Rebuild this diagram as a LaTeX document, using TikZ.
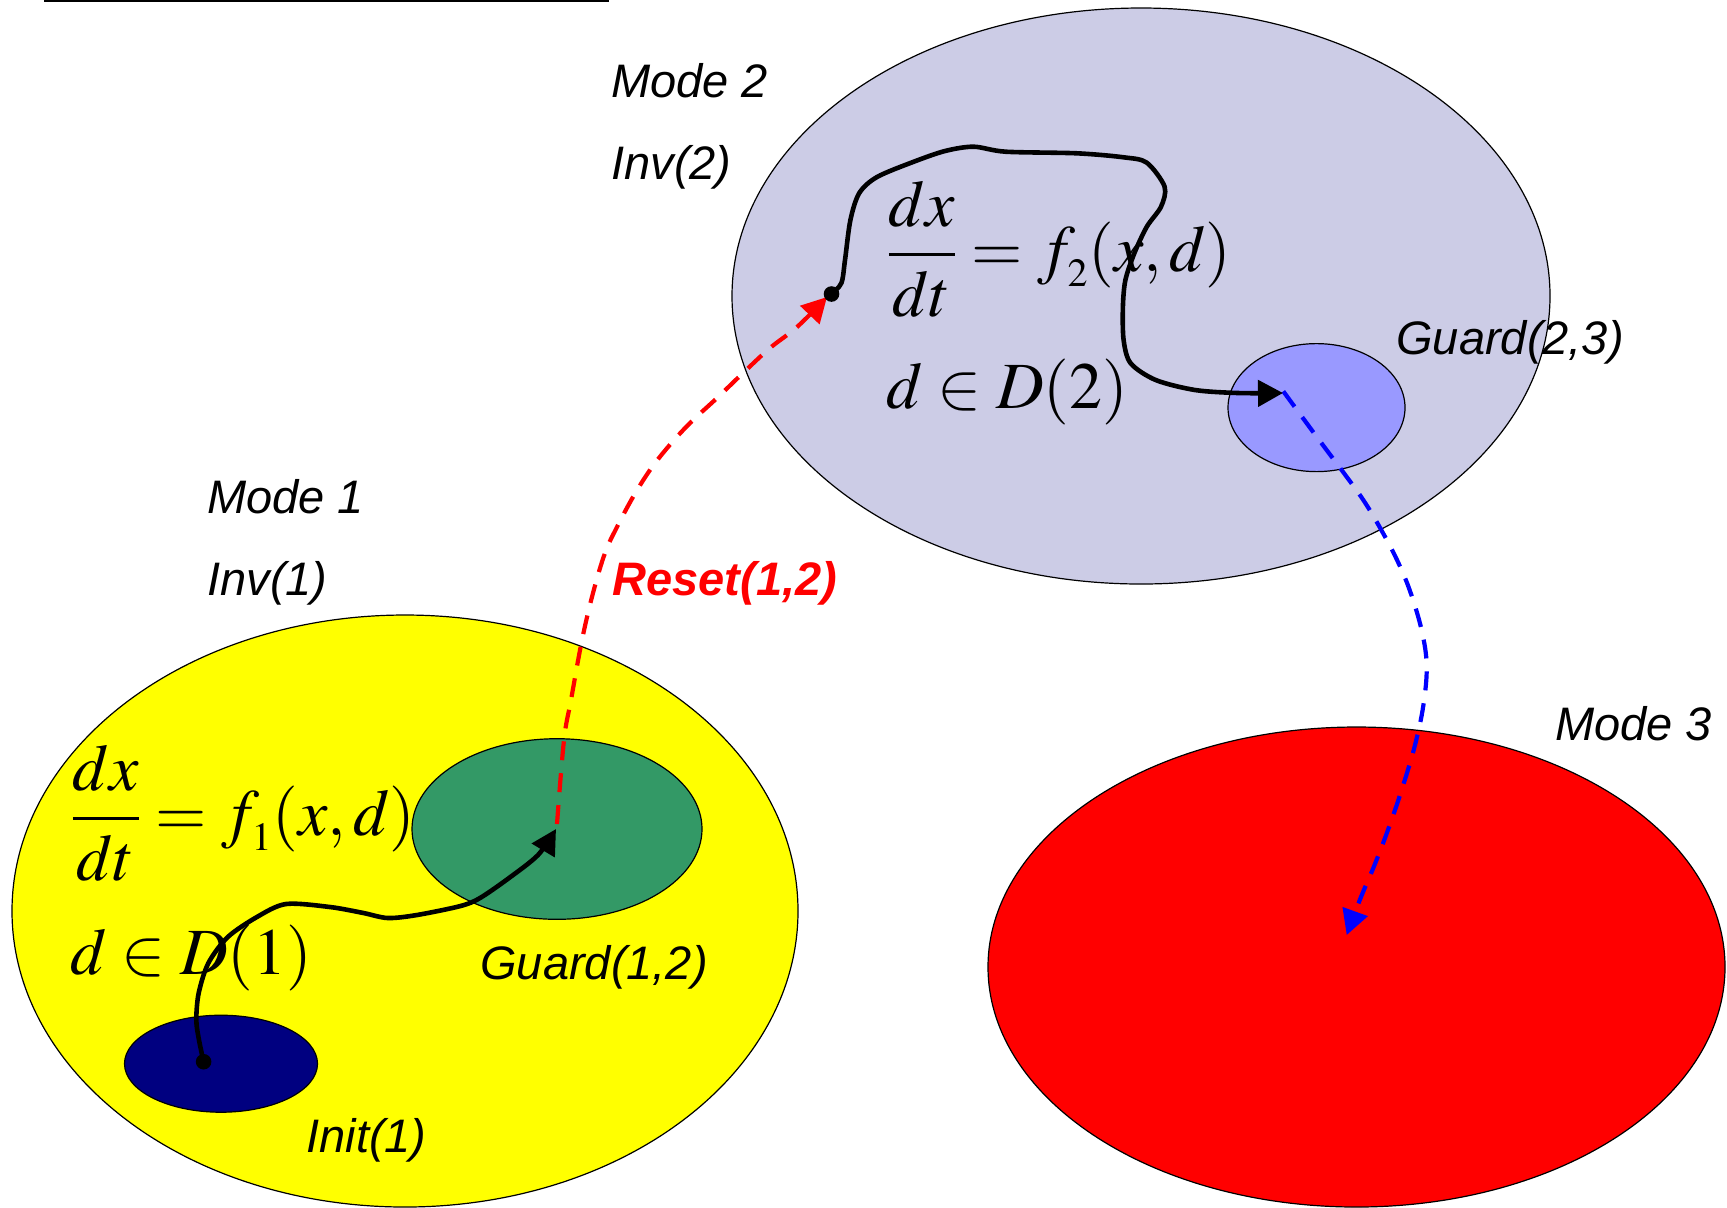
\documentclass[tikz,border=0pt]{standalone}
\usepackage{mathptmx}
\usepackage[no-math]{fontspec}
\newfontfamily\arialf{Liberation Sans}
\usetikzlibrary{shapes.geometric,arrows.meta}
\definecolor{lav}{RGB}{204,204,230}
\definecolor{guardblue}{RGB}{153,153,255}
\definecolor{guardgreen}{RGB}{51,153,102}
\definecolor{initblue}{RGB}{0,0,128}
\definecolor{modeyellow}{RGB}{255,255,0}
\definecolor{modered}{RGB}{255,0,0}
\newcommand{\smallsub}[1]{\raisebox{-3pt}{\fontsize{20}{20}\selectfont$#1$}}
\tikzset{
  region/.style={ellipse, draw=black, line width=0.6pt, inner sep=0pt},
  lab/.style={font=\arialf\itshape\fontsize{23.5}{28}\selectfont, inner sep=0pt, anchor=base west},
  mathlab/.style={font=\fontsize{33}{40}\selectfont, inner sep=0pt, anchor=base west},
  traj/.style={line width=2.3pt, line join=round, -{Triangle[length=12.5pt,width=13pt]}},
  jump/.style={line width=2.1pt, dash pattern=on 9.5pt off 6.5pt, -{Triangle[length=12.5pt,width=13pt]}},
  dotmark/.style={circle, fill=black, inner sep=0pt, minimum size=7.8pt}
}
\begin{document}
\begin{tikzpicture}[x=0.5pt,y=-0.5pt]
\useasboundingbox (0,0) rectangle (1727,1207);
% top rule
\coordinate (tl1) at (44,1);
\coordinate (tl2) at (609,1);
\draw[line width=1pt] (tl1) -- (tl2);
% regions
\node[region, fill=lav, minimum width=409pt, minimum height=288pt] (mode2) at (1141,296) {};
\node[region, fill=modeyellow, minimum width=393pt, minimum height=296pt] (mode1) at (405,911) {};
\node[region, fill=modered, minimum width=368.5pt, minimum height=240pt] (mode3) at (1356.5,967) {};
\node[region, fill=guardgreen, minimum width=145pt, minimum height=90.3pt] (guard12) at (557,829) {};
\node[region, fill=initblue, minimum width=96.5pt, minimum height=48.5pt] (init1) at (221,1063.7) {};
\node[region, fill=guardblue, minimum width=88.5pt, minimum height=64pt] (guard23) at (1316.5,407.6) {};
% labels
\node[lab] (lm2) at (611,97) {Mode 2};
\node[lab] (linv2) at (611,179.5) {Inv(2)};
\node[lab] (lm1) at (207,513) {Mode 1};
\node[lab] (linv1) at (207,595) {Inv(1)};
\node[lab] (lm3) at (1555,740) {Mode 3};
\node[lab] (lg23) at (1396,354.5) {Guard(2,3)};
\node[lab] (lg12) at (480,979) {Guard(1,2)};
\node[lab] (linit) at (306,1152) {Init(1)};
\node[lab, text=red, font=\arialf\bfseries\itshape\fontsize{23.5}{28}\selectfont] (lreset) at (612,595) {Reset(1,2)};
% equations
\node[mathlab] (eq2) at (886,271) {$\displaystyle\frac{dx}{dt}=f_{\smallsub{2}}(x,d)$};
\node[mathlab] (dom2) at (886,408) {$d\in D(2)$};
\node[mathlab] (eq1) at (70,835) {$\displaystyle\frac{dx}{dt}=f_{\smallsub{1}}(x,d)$};
\node[mathlab] (dom1) at (70,974) {$d\in D(1)$};
% trajectory points
\coordinate (s1) at (203.6,1061.7);
\coordinate (e1) at (556,829);
\coordinate (s2) at (831.5,294);
\coordinate (e2) at (1283,393);
\coordinate (r1) at (557,824);
\coordinate (r2) at (827,297);
\coordinate (b1) at (1283.3,391.3);
\coordinate (b2) at (1346.7,935);
% reset jump (red)
\draw[jump, red] plot[smooth, tension=0.6] coordinates {(r1) (564,740) (571,700) (582,640) (593,593) (605,553) (617,527) (633,497) (650,470) (668,447) (690,423) (717,398) (743,373) (770,348) (797,327) (r2)};
% jump to mode 3 (blue)
\draw[jump, blue] plot[smooth, tension=0.6] coordinates {(b1) (1316.7,436.8) (1343.3,472.3) (1363.3,500) (1380,527.7) (1396.7,559.3) (1410,591) (1421.7,630.5) (1426.7,666) (1423.3,705.6) (1415,745) (1403.3,784.7) (1390,824.3) (1375,863.8) (1360,899.4) (b2)};
% mode 1 trajectory
\draw[traj] plot[smooth, tension=0.5] coordinates {(s1) (199,1040) (196.3,1020) (198.7,993) (208.4,963) (227.8,937) (256.9,917) (286,904) (330,907) (363.5,913) (387.8,918) (416.9,915) (460.5,906) (480,898) (509,878) (538,855) (e1)};
\node[dotmark] (d1) at (s1) {};
% mode 2 trajectory
\draw[traj] plot[smooth, tension=0.5] coordinates {(s2) (841.4,283) (845,260) (850.4,220) (859.3,193) (877,177) (913,162) (945,151) (973.6,146.7) (1005.7,151.7) (1077,153.3) (1123.6,157.3) (1146.8,162.7) (1164.6,186.7) (1161,206.7) (1146.8,226.7) (1134.3,253.3) (1125.4,280) (1122.9,306.7) (1123.6,340) (1130.7,363.3) (1155.7,380) (1195,390) (1237.9,393) (e2)};
\node[dotmark] (d2) at (s2) {};
\end{tikzpicture}
\end{document}
